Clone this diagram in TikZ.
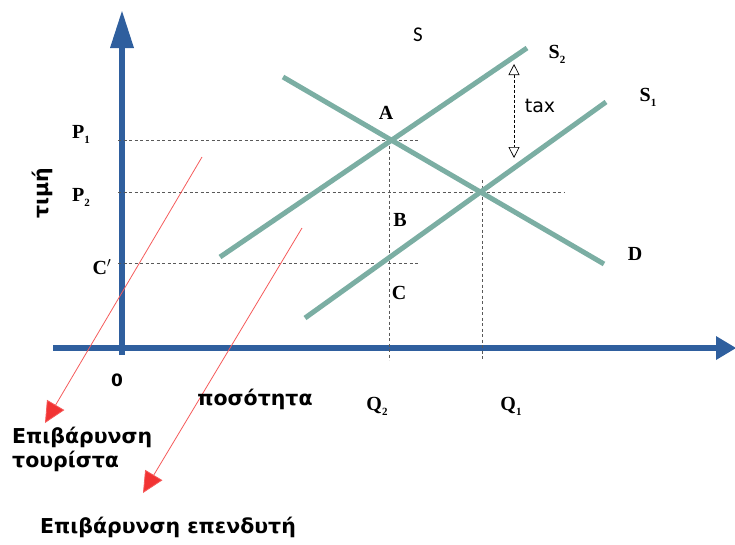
\documentclass[tikz,border=0pt]{standalone}
\usepackage{fontspec}
\setmainfont{Liberation Serif}
\newfontfamily\grk{DejaVu Sans}
\newfontfamily\calib{Carlito}
\usetikzlibrary{arrows.meta}
\definecolor{axisblue}{HTML}{2F5F9E}
\definecolor{curve}{HTML}{7BAEA3}
\definecolor{redarr}{HTML}{F23333}
\newcommand{\sbs}[1]{\raisebox{-5pt}{\fontsize{11}{11}\selectfont #1}}
\tikzset{
  axisline/.style={line width=6pt, draw=axisblue},
  axishead/.style={fill=axisblue, draw=none},
  curveline/.style={line width=5pt, draw=curve},
  guide/.style={dashed, draw=black!65, line width=0.8pt, dash pattern=on 3pt off 2.5pt},
  redline/.style={draw=redarr!80, line width=0.8pt, -{Triangle[length=21pt,width=20pt,fill=redarr]}},
  lbl/.style={font=\bfseries\fontsize{20}{21}\selectfont, inner sep=0pt},
  grklbl/.style={font=\grk\bfseries\fontsize{20.5}{24}\selectfont, inner sep=0pt},
}
\begin{document}
\begin{tikzpicture}[x=1pt,y=-1pt]
\useasboundingbox (0,0) rectangle (735,544);
% axes
\coordinate (yb) at (122,355);
\coordinate (yt) at (122,46);
\coordinate (xl) at (53,348);
\coordinate (xr) at (720,348);
\draw[axisline] (yb) -- (yt);
\fill[axishead] (110,48) -- (122,11) -- (134,48) -- cycle;
\draw[axisline] (xl) -- (xr);
\fill[axishead] (716,336) -- (736,348) -- (716,360) -- cycle;
% guides
\coordinate (p1l) at (118,140); \coordinate (p1r) at (420,140);
\coordinate (p2l) at (118,192); \coordinate (p2r) at (565,192);
\coordinate (cl) at (118,263); \coordinate (cr) at (420,263);
\coordinate (q2t) at (389,140); \coordinate (q2b) at (389,360);
\coordinate (q1t) at (482,180); \coordinate (q1b) at (482,360);
\draw[guide] (p1l) -- (p1r);
\draw[guide] (p2l) -- (p2r);
\draw[guide] (cl) -- (cr);
\draw[guide] (q2t) -- (q2b);
\draw[guide] (q1t) -- (q1b);
% curves
\coordinate (d1) at (283,77); \coordinate (d2) at (604,264);
\coordinate (s2a) at (220,257); \coordinate (s2b) at (527,48);
\coordinate (s1a) at (305,318); \coordinate (s1b) at (606,102);
\draw[curveline] (d1) -- (d2);
\draw[curveline] (s2a) -- (s2b);
\draw[curveline] (s1a) -- (s1b);
% tax arrow
\coordinate (taxt) at (514,64); \coordinate (taxb) at (514,158);
\draw[dashed, dash pattern=on 3pt off 2pt, line width=0.7pt, {Triangle[open,length=11pt,width=11pt]}-{Triangle[open,length=11pt,width=11pt]}] (taxt) -- (taxb);
\node[font=\grk\fontsize{19}{20}\selectfont, inner sep=0pt] (tax) at (540,106) {tax};
% red arrows
\coordinate (r1a) at (202,157); \coordinate (r1b) at (45,423);
\coordinate (r2a) at (302,228); \coordinate (r2b) at (143,493);
\draw[redline] (r1a) -- (r1b);
\draw[redline] (r2a) -- (r2b);
% labels
\node[font=\calib\fontsize{21}{22}\selectfont, inner sep=0pt] (S) at (418,35) {S};
\node[lbl] (S2) at (557,54) {S\sbs{2}};
\node[lbl] (S1) at (648,97) {S\sbs{1}};
\node[lbl] (A) at (386,113) {A};
\node[lbl] (B) at (400,220) {B};
\node[lbl] (C) at (399,293) {C};
\node[lbl] (D) at (635,254) {D};
\node[lbl] (P1) at (81,134) {P\sbs{1}};
\node[lbl] (P2) at (81,197) {P\sbs{2}};
\node[lbl] (Cp) at (102,267) {C$'$};
\node[lbl] (Q2) at (377,406) {Q\sbs{2}};
\node[lbl] (Q1) at (511,406) {Q\sbs{1}};
\node[font=\grk\bfseries\fontsize{17}{18}\selectfont, inner sep=0pt] (zero) at (117,380) {0};
\node[grklbl, rotate=90] (timi) at (42,193) {τιμή};
\node[grklbl] (poso) at (255,399) {ποσότητα};
\node[grklbl, align=left, anchor=west] (tour) at (12,449) {Επιβάρυνση\\τουρίστα};
\node[grklbl] (ependy) at (168,527) {Επιβάρυνση επενδυτή};
\end{tikzpicture}
\end{document}
